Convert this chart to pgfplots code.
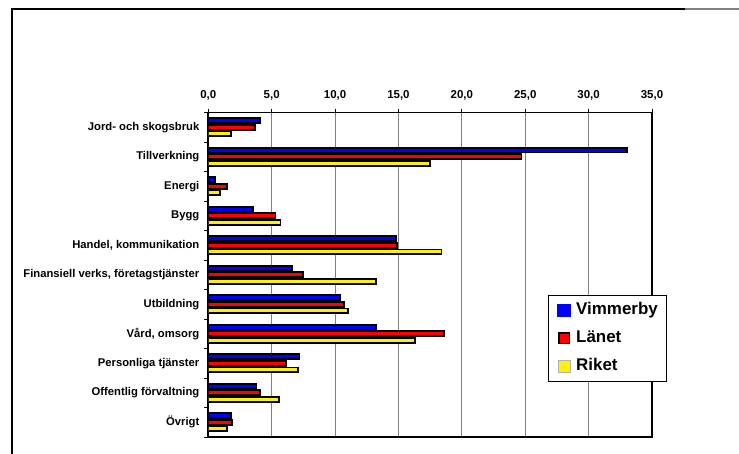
\documentclass[border=0pt]{standalone}
\usepackage{fontspec}
\setmainfont{Liberation Sans}
\usepackage{pgfplots}
\pgfplotsset{compat=1.18}
\begin{document}
\begin{tikzpicture}
\useasboundingbox (-208.3bp,-17bp) rectangle (530.7bp,437bp);
\begin{axis}[
  at={(0,0)}, anchor=south west,
  scale only axis, width=443.7bp, height=324.5bp,
  xbar, bar width=4.8bp,
  xmin=0, xmax=35, ymin=-0.5, ymax=10.5, y dir=reverse,
  xtick={0,5,...,35}, xtick pos=right, xticklabel pos=right,
  xticklabel={\pgfmathprintnumber[fixed,fixed zerofill,precision=1,use comma,assume math mode=true]{\tick}},
  xticklabel style={font=\fontsize{11.5}{13}\selectfont\bfseries, yshift=5bp},
  ytick={-0.5,0.5,...,10.5}, yticklabels={}, ytick pos=left,
  extra y ticks={0,1,2,3,4,5,6,7,8,9,10},
  extra y tick labels={Jord- och skogsbruk,Tillverkning,Energi,Bygg,{Handel, kommunikation},{Finansiell verks, företagstjänster},Utbildning,{Vård, omsorg},Personliga tjänster,Offentlig förvaltning,Övrigt},
  extra y tick style={major tick length=0pt, yticklabel style={font=\fontsize{11.3}{13}\selectfont\bfseries, xshift=-5.5bp}},
  tick align=outside, major tick length=4bp,
  tick style={black, line width=0.8bp},
  xmajorgrids, major grid style={gray, line width=0.8bp},
  axis line style={black, line width=1.8bp},
  legend style={at={(0.7656,0.4376)}, anchor=north west, draw=black, line width=0.8bp,
    font=\fontsize{17}{20}\selectfont\bfseries, inner xsep=9bp, inner ysep=7bp,
    nodes={inner sep=0pt, text height=12.5bp, text depth=3.5bp},
    column sep=5bp, row sep=12bp},
  legend cell align=left,
]
\addplot[draw=black, line width=1.8bp, fill=blue, bar shift=6.7bp,
  legend image code/.code={\fill[blue] (0bp,-6bp) rectangle (12bp,6bp);}]
  coordinates {(4.1,0) (33.0,1) (0.5,2) (3.5,3) (14.8,4) (6.6,5) (10.4,6) (13.2,7) (7.2,8) (3.8,9) (1.8,10)};
\addplot[draw=black, line width=1.8bp, fill=red, bar shift=0bp,
  legend image code/.code={\filldraw[fill=red, draw=black, line width=1.5bp] (0.75bp,-5.25bp) rectangle (11.25bp,5.25bp);}]
  coordinates {(3.7,0) (24.7,1) (1.5,2) (5.3,3) (14.9,4) (7.5,5) (10.7,6) (18.6,7) (6.1,8) (4.1,9) (1.9,10)};
\addplot[draw=black, line width=1.8bp, fill=yellow, bar shift=-6.7bp,
  legend image code/.code={\filldraw[fill=yellow, draw=gray!60, line width=0.5bp] (0bp,-6bp) rectangle (12bp,6bp);}]
  coordinates {(1.8,0) (17.5,1) (0.9,2) (5.7,3) (18.4,4) (13.2,5) (11.0,6) (16.3,7) (7.1,8) (5.6,9) (1.5,10)};
\legend{Vimmerby,Länet,Riket}
\end{axis}
\draw[black, line width=1.5bp] (-196.3bp,-17bp) -- (-196.3bp,428bp) -- (476.7bp,428bp);
\draw[gray, line width=1.5bp] (476.7bp,428bp) -- (530.7bp,428bp);
\end{tikzpicture}
\end{document}
